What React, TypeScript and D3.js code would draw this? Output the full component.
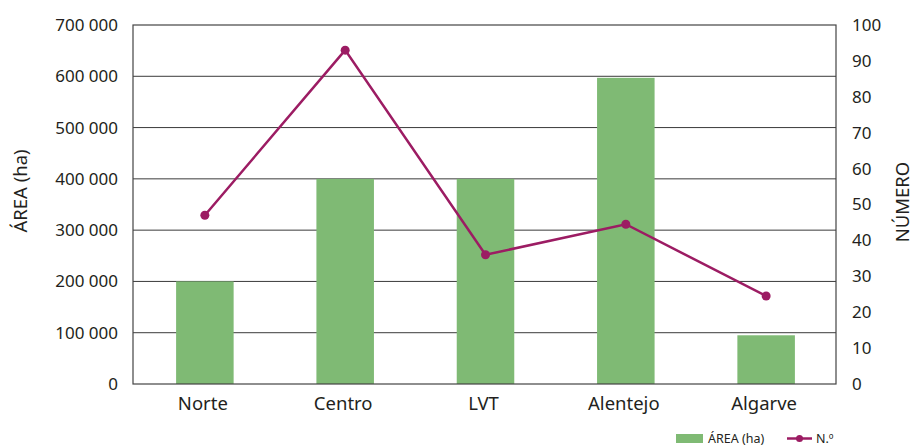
import React from "react";
import * as d3 from "d3";

const categories = ["Norte", "Centro", "LVT", "Alentejo", "Algarve"];
const areaValues = [200000, 400000, 400000, 597000, 95000];
const countValues = [47, 93, 36, 44.5, 24.5];
const leftTicks = [0, 100000, 200000, 300000, 400000, 500000, 600000, 700000];
const rightTicks = [0, 10, 20, 30, 40, 50, 60, 70, 80, 90, 100];

const W = 915;
const H = 446;
const M = { left: 133, right: 836, top: 25, bottom: 384 };
const FONT = "'Noto Sans', 'Open Sans', sans-serif";
const GREEN = "#7fba74";
const PURPLE = "#9c1c63";

export default function App() {
  const x = d3.scaleBand<string>().domain(categories).range([M.left, M.right]).paddingInner(0.59).paddingOuter(0.3);
  const yL = d3.scaleLinear().domain([0, 700000]).range([M.bottom, M.top]);
  const yR = d3.scaleLinear().domain([0, 100]).range([M.bottom, M.top]);
  const fmt = (v: number) => d3.format(",")(v).replace(/,/g, " ");
  const cx = (i: number) => (x(categories[i]) as number) + x.bandwidth() / 2 + 1;
  const line = d3
    .line<number>()
    .x((_, i) => cx(i))
    .y((d) => yR(d));

  return (
    <svg width={W} height={H} style={{ position: "absolute", left: 0, top: 0, background: "#fff" }} fontFamily={FONT}>
      {leftTicks.map((t) => (
        <g key={t}>
          {t > 0 && t < 700000 && (
            <line x1={M.left} x2={M.right} y1={yL(t)} y2={yL(t)} stroke="#3a3a3a" strokeWidth={1} />
          )}
          <text x={118} y={yL(t)} dy="0.35em" textAnchor="end" fontSize={17} fill="#231f20">
            {fmt(t)}
          </text>
        </g>
      ))}
      {rightTicks.map((t) => (
        <text key={t} x={852} y={yR(t)} dy="0.35em" textAnchor="start" fontSize={17} fill="#231f20">
          {t}
        </text>
      ))}
      {categories.map((c, i) => (
        <rect
          key={c}
          x={(x(c) as number) + 1}
          width={x.bandwidth()}
          y={yL(areaValues[i])}
          height={M.bottom - yL(areaValues[i])}
          fill={GREEN}
        />
      ))}
      <rect x={M.left} y={M.top} width={M.right - M.left} height={M.bottom - M.top} fill="none" stroke="#444" strokeWidth={1.2} />
      <path d={line(countValues) || ""} fill="none" stroke={PURPLE} strokeWidth={2.5} />
      {countValues.map((v, i) => (
        <circle key={i} cx={cx(i)} cy={yR(v)} r={4.5} fill={PURPLE} />
      ))}
      {categories.map((c, i) => (
        <text key={c} x={cx(i) - 2} y={410} textAnchor="middle" fontSize={18.5} fill="#231f20">
          {c}
        </text>
      ))}
      <text transform={`translate(21,191) rotate(-90)`} textAnchor="middle" dy="0.35em" fontSize={18.5} fill="#231f20">
        ÁREA (ha)
      </text>
      <text transform={`translate(903,202) rotate(-90)`} textAnchor="middle" dy="0.35em" fontSize={18.5} fill="#231f20">
        NÚMERO
      </text>
      <rect x={676} y={434} width={27} height={9} fill={GREEN} />
      <text x={708} y={438.5} dy="0.35em" fontSize={12.5} fill="#231f20">ÁREA (ha)</text>
      <line x1={787} x2={812} y1={438.5} y2={438.5} stroke={PURPLE} strokeWidth={2.5} />
      <circle cx={799.5} cy={438.5} r={3.5} fill={PURPLE} />
      <text x={816} y={438.5} dy="0.35em" fontSize={12.5} fill="#231f20">N.º</text>
    </svg>
  );
}
